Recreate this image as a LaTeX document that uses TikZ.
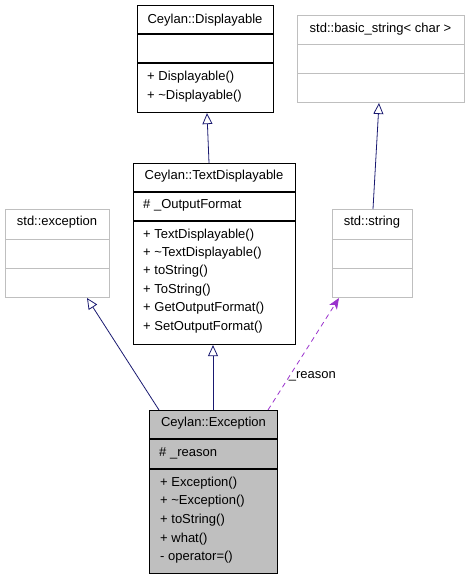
\documentclass[tikz,border=0pt]{standalone}
\usepackage{fontspec}
\setmainfont{Liberation Sans}
\usetikzlibrary{arrows.meta}
\definecolor{navyline}{HTML}{191970}
\definecolor{purpline}{HTML}{9A32CD}
\definecolor{grayborder}{HTML}{BFBFBF}
\definecolor{grayfill}{HTML}{BFBFBF}
\begin{document}
\begin{tikzpicture}[x=1pt,y=-1pt,
  font=\fontsize{13}{15}\selectfont,
  blkbox/.style={draw=black,line width=1.1pt,rectangle,inner sep=0pt,anchor=north west},
  grybox/.style={draw=grayborder,line width=1pt,rectangle,inner sep=0pt,anchor=north west},
  blksep/.style={draw=black,line width=1.1pt},
  grysep/.style={draw=grayborder,line width=1pt},
  ttl/.style={inner sep=0pt,anchor=center},
  mbr/.style={inner sep=0pt,anchor=west},
  inherit/.style={draw=navyline,line width=0.8pt,-{Triangle[open,length=11pt,width=10pt,line width=0.8pt]}},
  usage/.style={draw=purpline,line width=0.8pt,dash pattern=on 5pt off 4pt,-{Stealth[length=11pt,width=9pt,inset=3pt]}},
  lbl/.style={inner sep=0pt,anchor=center}
]
\useasboundingbox (0,0) rectangle (468,579);

% Ceylan::Displayable
\node[blkbox,minimum width=136pt,minimum height=107pt] (disp) at (137,5) {};
\draw[blksep] (137,34) -- (273,34);
\draw[blksep] (137,63) -- (273,63);
\node[ttl] (dispT) at (205,20) {Ceylan::Displayable};
\node[mbr] (dispM1) at (147,77) {+ Displayable()};
\node[mbr] (dispM2) at (147,96) {+ \textasciitilde Displayable()};

% std::basic_string< char >
\node[grybox,minimum width=167pt,minimum height=87pt] (bstr) at (297,15) {};
\draw[grysep] (297,44) -- (464,44);
\draw[grysep] (297,73) -- (464,73);
\node[ttl] (bstrT) at (380.5,29) {std::basic\_string< char >};

% Ceylan::TextDisplayable
\node[blkbox,minimum width=162pt,minimum height=181pt] (td) at (133,163) {};
\draw[blksep] (133,192) -- (295,192);
\draw[blksep] (133,221) -- (295,221);
\node[ttl] (tdT) at (214,176.5) {Ceylan::TextDisplayable};
\node[mbr] (tdA1) at (143,205) {\# \_OutputFormat};
\node[mbr] (tdM1) at (143,235) {+ TextDisplayable()};
\node[mbr] (tdM2) at (143,253) {+ \textasciitilde TextDisplayable()};
\node[mbr] (tdM3) at (143,271.5) {+ toString()};
\node[mbr] (tdM4) at (143,290) {+ ToString()};
\node[mbr] (tdM5) at (143,308.5) {+ GetOutputFormat()};
\node[mbr] (tdM6) at (143,327) {+ SetOutputFormat()};

% std::exception
\node[grybox,minimum width=104pt,minimum height=88pt] (sexc) at (5,209) {};
\draw[grysep] (5,239) -- (109,239);
\draw[grysep] (5,268) -- (109,268);
\node[ttl] (sexcT) at (57,222.5) {std::exception};

% std::string
\node[grybox,minimum width=80pt,minimum height=88pt] (sstr) at (332,209) {};
\draw[grysep] (332,239) -- (412,239);
\draw[grysep] (332,268) -- (412,268);
\node[ttl] (sstrT) at (372,222.5) {std::string};

% Ceylan::Exception
\node[blkbox,fill=grayfill,minimum width=128pt,minimum height=163pt] (exc) at (149,410) {};
\draw[blksep] (149,439) -- (277,439);
\draw[blksep] (149,469) -- (277,469);
\node[ttl] (excT) at (213.5,423.5) {Ceylan::Exception};
\node[mbr] (excA1) at (159,453) {\# \_reason};
\node[mbr] (excM1) at (160,483) {+ Exception()};
\node[mbr] (excM2) at (160,501.5) {+ \textasciitilde Exception()};
\node[mbr] (excM3) at (160,520) {+ toString()};
\node[mbr] (excM4) at (160,539) {+ what()};
\node[mbr] (excM5) at (160,557) {- operator=()};

% connectors
\draw[inherit] ([xshift=76pt]td.north west) -- ([xshift=70pt]disp.south west);
\draw[inherit] ([xshift=41pt]sstr.north west) -- ([xshift=82pt]bstr.south west);
\draw[inherit] ([xshift=10pt]exc.north west) -- ([xshift=82pt]sexc.south west);
\draw[inherit] ([xshift=64pt]exc.north west) -- ([xshift=80pt]td.south west);
\draw[usage] ([xshift=119pt]exc.north west) -- node[lbl,pos=0.3,xshift=23pt] (rsn) {\_reason} ([xshift=7pt]sstr.south west);
\end{tikzpicture}
\end{document}
